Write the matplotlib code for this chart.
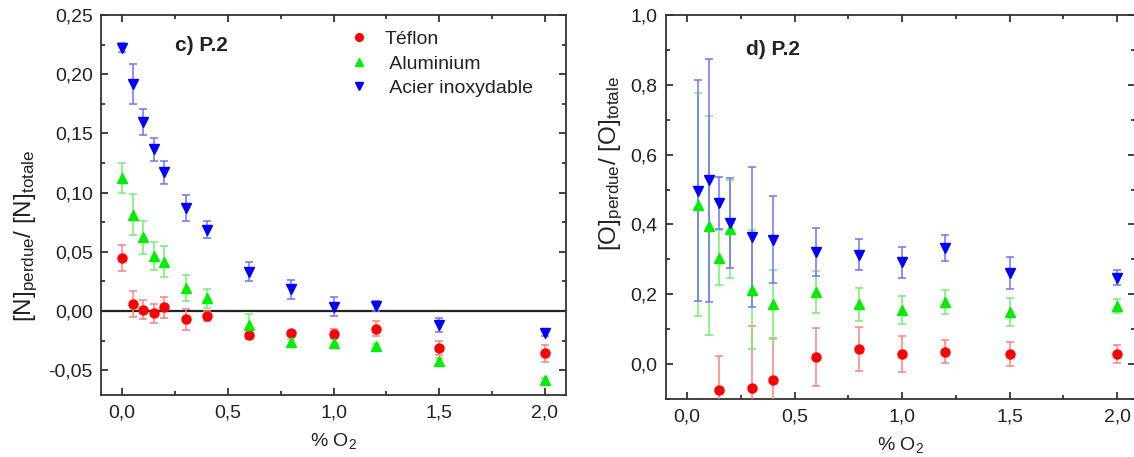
import matplotlib
matplotlib.use("Agg")
import matplotlib.pyplot as plt
from matplotlib.lines import Line2D
from matplotlib.ticker import MultipleLocator, FuncFormatter

plt.rcParams['font.family'] = ['Liberation Sans', 'DejaVu Sans']
plt.rcParams['mathtext.default'] = 'regular'

# % O2 admixture
o2_n = [0.0, 0.05, 0.1, 0.15, 0.2, 0.3, 0.4, 0.6, 0.8, 1.0, 1.2, 1.5, 2.0]
o2_o = [0.05, 0.1, 0.15, 0.2, 0.3, 0.4, 0.6, 0.8, 1.0, 1.2, 1.5, 2.0]
o2_o_teflon = [0.15, 0.3, 0.4, 0.6, 0.8, 1.0, 1.2, 1.5, 2.0]

# c) [N]perdue / [N]totale
n_teflon = [0.0447, 0.0057, 0.0009, -0.002, 0.003, -0.007, -0.0042, -0.020, -0.0189, -0.0195, -0.0149, -0.031, -0.0358]
n_teflon_err = [0.011, 0.011, 0.008, 0.008, 0.009, 0.009, 0.004, 0.004, 0.002, 0.004, 0.006, 0.006, 0.007]
n_alu = [0.1125, 0.0814, 0.0622, 0.0466, 0.0415, 0.019, 0.0108, -0.0119, -0.0263, -0.0268, -0.0297, -0.0424, -0.0587]
n_alu_err = [0.0125, 0.017, 0.014, 0.012, 0.013, 0.011, 0.008, 0.009, 0.003, 0.004, 0.002, 0.003, 0.002]
n_acier = [0.2224, 0.192, 0.160, 0.1365, 0.117, 0.0868, 0.0686, 0.033, 0.0184, 0.0034, 0.0042, -0.0121, -0.0183]
n_acier_err = [0.004, 0.017, 0.011, 0.010, 0.0095, 0.011, 0.007, 0.008, 0.008, 0.008, 0.004, 0.006, 0.003]

# d) [O]perdue / [O]totale
o_teflon = [-0.074, -0.069, -0.046, 0.021, 0.042, 0.029, 0.035, 0.029, 0.029]
o_teflon_err = [0.097, 0.178, 0.12, 0.083, 0.063, 0.052, 0.033, 0.034, 0.027]
o_alu = [0.457, 0.397, 0.305, 0.388, 0.213, 0.171, 0.207, 0.171, 0.154, 0.178, 0.149, 0.166]
o_alu_err = [0.32, 0.314, 0.078, 0.14, 0.17, 0.098, 0.06, 0.047, 0.04, 0.034, 0.04, 0.02]
o_acier = [0.497, 0.526, 0.462, 0.404, 0.364, 0.356, 0.321, 0.313, 0.292, 0.333, 0.261, 0.248]
o_acier_err = [0.317, 0.347, 0.075, 0.13, 0.2, 0.125, 0.07, 0.044, 0.044, 0.037, 0.047, 0.022]

labels = ['Téflon', ' Aluminium', ' Acier inoxydable']
colors = ['#ff0000', '#00ee00', '#0000ff']
err_colors = ['#ff8080', '#70f070', '#7070ff']
markers = ['o', '^', 'v']
sizes = [6.5, 7.5, 7.5]

W, H = 1134, 457
fig = plt.figure(figsize=(W / 100, H / 100), dpi=100)
ax1 = fig.add_axes([101 / W, 1 - 395 / H, 465 / W, 380 / H])
ax2 = fig.add_axes([665.7 / W, 1 - 399 / H, 469.3 / W, 384 / H])


def comma(fmt):
    return FuncFormatter(lambda v, p: (fmt % v).replace('.', ',').replace('-0,00', '0,00'))


def draw(ax, xs, ys, es):
    for x, y, e, c, ec, m, s in zip(xs, ys, es, colors, err_colors, markers, sizes):
        ax.errorbar(x, y, yerr=e, fmt=m, color=c, ms=s, mec=c, ecolor=ec,
                    elinewidth=1.1, capsize=3, capthick=1.1, zorder=3)


def style(ax):
    ax.tick_params(which='both', direction='in', top=True, right=True,
                   width=1.2, labelsize=14, colors='#222222')
    ax.tick_params(which='major', length=5)
    ax.tick_params(which='minor', length=3)
    for sp in ax.spines.values():
        sp.set_linewidth(1.3)
        sp.set_color('#333333')
    ax.set_xlim(-0.1, 2.1)
    ax.xaxis.set_major_locator(MultipleLocator(0.5))
    ax.xaxis.set_minor_locator(MultipleLocator(0.25))
    ax.xaxis.set_major_formatter(comma('%.1f'))
    ax.tick_params(axis='x', pad=7)


# c) nitrogen
draw(ax1, [o2_n] * 3, [n_teflon, n_alu, n_acier], [n_teflon_err, n_alu_err, n_acier_err])
ax1.axhline(0, color='#222222', lw=1.6, zorder=2)
style(ax1)
ax1.set_ylim(-0.071, 0.25)
ax1.yaxis.set_major_locator(MultipleLocator(0.05))
ax1.yaxis.set_minor_locator(MultipleLocator(0.025))
ax1.yaxis.set_major_formatter(comma('%.2f'))
ax1.tick_params(axis='y', pad=6)
ax1.set_xlabel('% O$_2$', fontsize=14, color='#222222')
ax1.xaxis.set_label_coords(0.5, -0.095)
ax1.set_ylabel('[N]$_{perdue}$/ [N]$_{totale}$', fontsize=17.5, color='#222222')
ax1.yaxis.set_label_coords(-0.131, 0.42)
ax1.text(0.215, 0.921, 'c) P.2', transform=ax1.transAxes, fontsize=15,
         fontweight='bold', ha='center', va='center', color='#222222')

handles = [Line2D([], [], ls='none', marker=m, color=c, ms=s * 0.85)
           for m, c, s in zip(markers, colors, sizes)]
ax1.legend(handles, labels, loc='upper left', bbox_to_anchor=(0.533, 0.959),
           frameon=False, fontsize=14, handlelength=1.0, handletextpad=0.85,
           labelspacing=0.35, borderaxespad=0, borderpad=0, labelcolor='#222222')

# d) oxygen
draw(ax2, [o2_o_teflon, o2_o, o2_o], [o_teflon, o_alu, o_acier], [o_teflon_err, o_alu_err, o_acier_err])
style(ax2)
ax2.set_xlim(-0.1, -0.1 + 469.3 / 215)
ax2.set_ylim(-0.1, 1.0)
ax2.yaxis.set_major_locator(MultipleLocator(0.2))
ax2.yaxis.set_minor_locator(MultipleLocator(0.1))
ax2.yaxis.set_major_formatter(comma('%.1f'))
ax2.tick_params(axis='y', pad=6)
ax2.set_xlabel('% O$_2$', fontsize=14, color='#222222')
ax2.xaxis.set_label_coords(0.5, -0.094)
ax2.set_ylabel('[O]$_{perdue}$/ [O]$_{totale}$', fontsize=17.5, color='#222222')
ax2.yaxis.set_label_coords(-0.087, 0.612)
ax2.text(0.2297, 0.909, 'd) P.2', transform=ax2.transAxes, fontsize=15,
         fontweight='bold', ha='center', va='center', color='#222222')

fig.savefig('out.png', dpi=100)
